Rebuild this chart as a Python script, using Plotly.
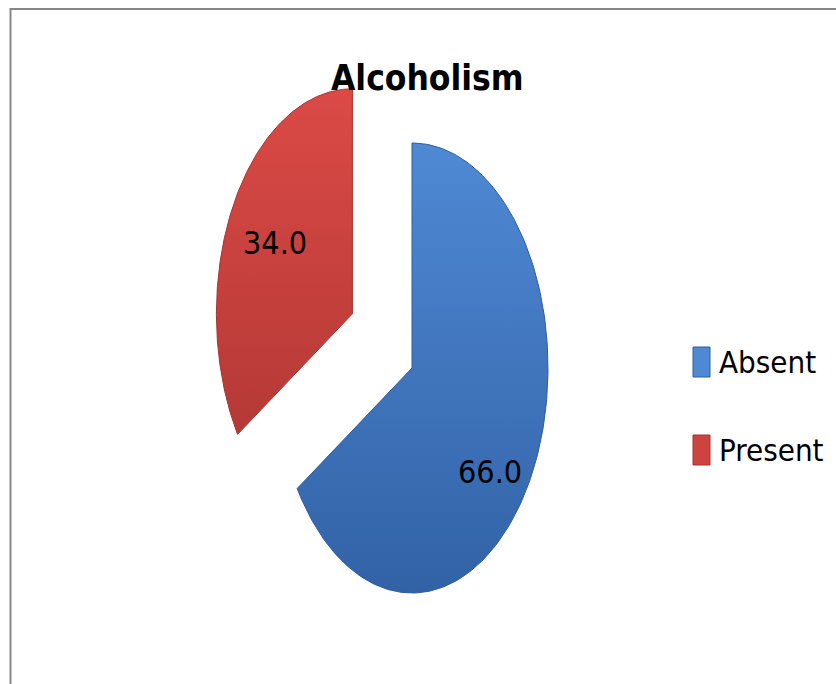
import numpy as np
import plotly.graph_objects as go

# Data
categories = ["Absent", "Present"]
percentages = [66.0, 34.0]
explode = [0.0, 0.5]          # pull of each slice, in units of the radius

# Styling
fill_dark = ["#3262A6", "#B53936"]
fill_light = ["#4F89D4", "#DB4A46"]
edge_colors = ["#2E5C9C", "#A33431"]
label_pos = [(0.74, 10.0), (0.65, 0.0)]   # (radius fraction, angle shift in degrees)
FONT = "DejaVu Sans Condensed, Liberation Sans Narrow, Arial Narrow, sans-serif"

W, H = 836, 684
# pie centre and radii in pixels; axes are scaled so the pie radius is 1 unit
CX, CY, RX, RY = 412, 368, 136, 225
x_range = [-CX / RX, (W - CX) / RX]
y_range = [(CY - H) / RY, CY / RY]

fig = go.Figure()

total = sum(percentages)
start = 0.0
for i, (name, val) in enumerate(zip(categories, percentages)):
    sweep = 360.0 * val / total
    mid = np.radians(start + sweep / 2)
    ox, oy = explode[i] * np.sin(mid), explode[i] * np.cos(mid)
    th = np.radians(np.linspace(start, start + sweep, 200))
    xs = np.concatenate([[ox], ox + np.sin(th), [ox]])
    ys = np.concatenate([[oy], oy + np.cos(th), [oy]])
    fig.add_trace(go.Scatter(
        x=xs, y=ys, mode="lines", fill="toself", name=name,
        line=dict(color=edge_colors[i], width=1),
        fillgradient=dict(type="vertical",
                          colorscale=[[0, fill_dark[i]], [1, fill_light[i]]]),
        hoverinfo="name", showlegend=False,
    ))
    r, dth = label_pos[i]
    la = mid + np.radians(dth)
    fig.add_annotation(
        x=ox + r * np.sin(la), y=oy + r * np.cos(la), xref="x", yref="y",
        text=f"{val:.1f}", showarrow=False,
        font=dict(family=FONT, size=32, color="#000000"),
    )
    start += sweep

# Legend entries drawn as swatches with labels
legend_y = [362, 450]
for i, name in enumerate(categories):
    yc = legend_y[i]
    fig.add_shape(type="rect", xref="paper", yref="paper",
                  x0=693 / W, x1=710 / W,
                  y0=1 - (yc + 15) / H, y1=1 - (yc - 15) / H,
                  line=dict(color=edge_colors[i], width=1),
                  fillcolor=fill_light[i] if i == 0 else "#CC4340")
    fig.add_annotation(x=717 / W, y=1 - yc / H, xref="paper", yref="paper",
                       xanchor="left", yanchor="middle", text=name,
                       showarrow=False,
                       font=dict(family=FONT, size=31, color="#000000"))

# Title
fig.add_annotation(x=427 / W, y=1 - 78 / H, xref="paper", yref="paper",
                   xanchor="center", yanchor="middle",
                   text="<b>Alcoholism</b>", showarrow=False,
                   font=dict(family=FONT, size=35, color="#000000"))

# Chart frame
fig.add_shape(type="rect", xref="paper", yref="paper",
              x0=10.5 / W, x1=1.2, y0=-0.2, y1=1 - 9 / H,
              line=dict(color="#878787", width=2), fillcolor="rgba(0,0,0,0)",
              layer="above")

fig.update_layout(
    width=W, height=H,
    margin=dict(l=0, r=0, t=0, b=0),
    paper_bgcolor="white", plot_bgcolor="white",
    xaxis=dict(range=x_range, visible=False, fixedrange=True),
    yaxis=dict(range=y_range, visible=False, fixedrange=True),
    showlegend=False,
)

fig.write_html("out.html")
